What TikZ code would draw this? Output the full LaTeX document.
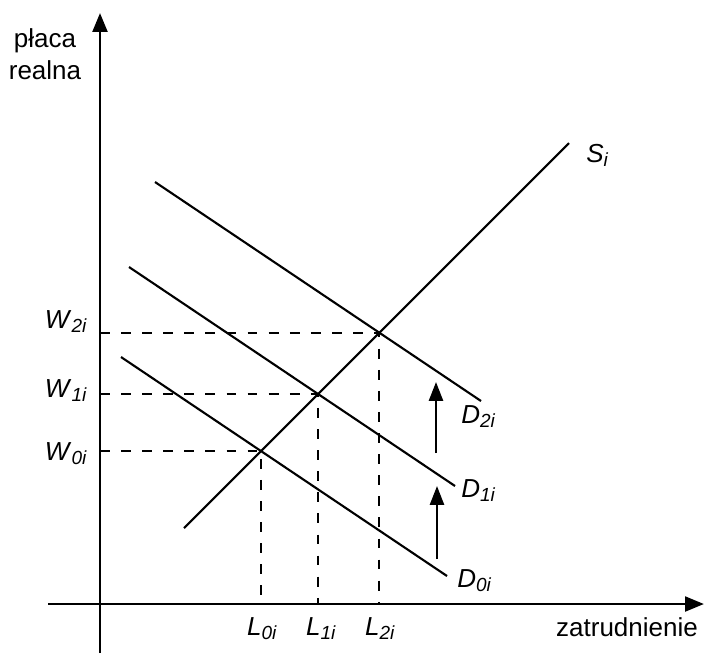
\documentclass[tikz,border=0pt]{standalone}
\usepackage{fontspec}
\setmainfont{Liberation Sans}
\usetikzlibrary{arrows.meta}

\newcommand{\vlab}[2]{\textit{#1}\raisebox{-3.5pt}{\fontsize{13.5}{16}\selectfont\textit{#2}}}

\tikzset{
  axis/.style={line width=2.1pt, -{Triangle[length=13.5pt,width=10.5pt]}},
  curve/.style={line width=1.5pt},
  guide/.style={line width=1.5pt, dash pattern=on 7pt off 8pt},
  shiftup/.style={line width=1.8pt, -{Triangle[length=13.5pt,width=10pt]}},
  every node/.style={font=\fontsize{18.5}{22.5}\selectfont, inner sep=0pt}
}

\begin{document}
\begin{tikzpicture}[x=0.025cm, y=-0.025cm]
    \useasboundingbox (0,0) rectangle (704,654);
    % axes
    \coordinate (y0) at (100,653);
    \coordinate (y1) at (100,13);
    \coordinate (x0) at (48,604);
    \coordinate (x1) at (704,604);
    \draw[axis] (y0) -- (y1);
    \draw[axis] (x0) -- (x1);
    \node[align=center] (ylab) at (45,54) {płaca\\realna};
    \node[anchor=base] (xlab) at (627,636) {zatrudnienie};

    % supply
    \coordinate (S0) at (184,528);
    \coordinate (S1) at (569,143);
    \draw[curve] (S0) -- (S1);
    \node[anchor=base west] (Slab) at (586,162) {\vlab{S}{i}};

    % demand curves
    \coordinate (D2a) at (155,182);
    \coordinate (D2b) at (481,401);
    \coordinate (D1a) at (129,267);
    \coordinate (D1b) at (455,486);
    \coordinate (D0a) at (121,357);
    \coordinate (D0b) at (447,576);
    \draw[curve] (D2a) -- (D2b);
    \draw[curve] (D1a) -- (D1b);
    \draw[curve] (D0a) -- (D0b);
    \node[anchor=base west] (D2lab) at (461,423) {\vlab{D}{2i}};
    \node[anchor=base west] (D1lab) at (461,497) {\vlab{D}{1i}};
    \node[anchor=base west] (D0lab) at (457,587) {\vlab{D}{0i}};

    % shifts of demand
    \coordinate (a0) at (436,453);
    \coordinate (a1) at (436,382);
    \coordinate (b0) at (437,559);
    \coordinate (b1) at (437,486);
    \draw[shiftup] (a0) -- (a1);
    \draw[shiftup] (b0) -- (b1);

    % equilibria
    \coordinate (E2) at (intersection of S0--S1 and D2a--D2b);
    \coordinate (E1) at (intersection of S0--S1 and D1a--D1b);
    \coordinate (E0) at (intersection of S0--S1 and D0a--D0b);
    \draw[guide] (E2 -| y0) -- (E2) -- (E2 |- x0);
    \draw[guide] (E1 -| y0) -- (E1) -- (E1 |- x0);
    \draw[guide] (E0 -| y0) -- (E0) -- (E0 |- x0);

    \node[anchor=base east] (W2) at (87,328) {\vlab{W}{2i}};
    \node[anchor=base east] (W1) at (87,397) {\vlab{W}{1i}};
    \node[anchor=base east] (W0) at (87,460) {\vlab{W}{0i}};
    \node[anchor=base] (L0) at (262,635) {\vlab{L}{0i}};
    \node[anchor=base] (L1) at (321,635) {\vlab{L}{1i}};
    \node[anchor=base] (L2) at (380,635) {\vlab{L}{2i}};
\end{tikzpicture}
\end{document}
